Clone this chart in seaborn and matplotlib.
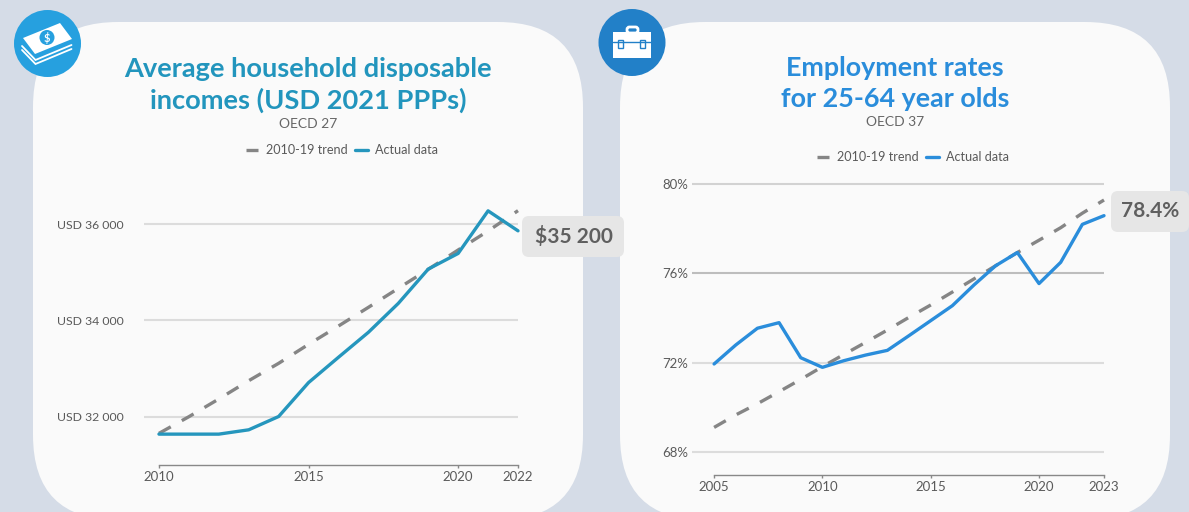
import matplotlib
matplotlib.use("Agg")
import matplotlib.pyplot as plt
from matplotlib.patches import Circle, FancyBboxPatch, Polygon, Rectangle
import pandas as pd
import seaborn as sns

W, H = 1189, 512

TREND = "2010-19 trend"
ACTUAL = "Actual data"

income_years = [2010, 2011, 2012, 2013, 2014, 2015, 2016, 2017, 2018, 2019, 2020, 2021, 2022]
income_actual = [31633, 31633, 31633, 31723, 32000, 32707, 33234, 33754, 34357, 35071, 35397, 36284, 35868]
income_trend = [31649, 31996, 32365, 32746, 33108, 33503, 33885, 34274, 34670, 35066, 35469, 35865, 36288]
income_yticks = [32000, 34000, 36000]
income_ylabels = ["USD 32 000", "USD 34 000", "USD 36 000"]
income_xticks = [2010, 2015, 2020, 2022]

emp_years = [2005, 2006, 2007, 2008, 2009, 2010, 2011, 2012, 2013, 2014, 2015, 2016,
             2017, 2018, 2019, 2020, 2021, 2022, 2023]
emp_actual = [71.94, 72.79, 73.54, 73.79, 72.22, 71.79, 72.09, 72.34, 72.55, 73.21, 73.88,
              74.55, 75.48, 76.34, 76.93, 75.54, 76.49, 78.19, 78.58]
emp_trend = [69.10, 69.66, 70.16, 70.70, 71.25, 71.82, 72.37, 72.91, 73.46, 74.03, 74.58,
             75.16, 75.75, 76.34, 76.93, 77.48, 78.04, 78.69, 79.28]
emp_yticks = [68, 72, 76, 80]
emp_ylabels = ["68%", "72%", "76%", "80%"]
emp_xticks = [2005, 2010, 2015, 2020, 2023]

sns.set_theme(style="white")
plt.rcParams["font.family"] = ["Lato", "DejaVu Sans"]

BG = "#d5dce7"
CARD = "#fafafa"
GREY = "#666666"
TICK = "#5a5a5a"
GRID = "#dcdcdc"
DASH = "#858585"


def px_axes(fig, x0, x1, y_top, y_bottom):
    return fig.add_axes([x0 / W, 1 - y_bottom / H, (x1 - x0) / W, (y_bottom - y_top) / H])


def long_table(years, actual, trend):
    return pd.concat([
        pd.DataFrame({"year": years, "value": trend, "series": TREND}),
        pd.DataFrame({"year": years, "value": actual, "series": ACTUAL}),
    ])


def draw_chart(ax, df, color, xlim, ylim, xticks, yticks, ylabels, legend_xy, tick_pad, ysize):
    sns.lineplot(
        data=df, x="year", y="value", hue="series", style="series",
        hue_order=[TREND, ACTUAL], style_order=[TREND, ACTUAL],
        palette={TREND: DASH, ACTUAL: color},
        dashes={TREND: (4.05, 3.8), ACTUAL: ""},
        linewidth=2.4, ax=ax, errorbar=None,
    )
    for line in ax.get_lines():
        line.set_clip_on(False)
    ax.set_xlim(*xlim)
    ax.set_ylim(*ylim)
    ax.set_facecolor("none")
    ax.set_xlabel("")
    ax.set_ylabel("")
    ax.set_xticks(xticks)
    ax.set_yticks(yticks)
    ax.set_yticklabels(ylabels)
    ax.grid(axis="y", color=GRID, linewidth=1.5)
    ax.set_axisbelow(True)
    ax.tick_params(axis="x", length=2.5, width=1, color="#888888", labelsize=9.5,
                   labelcolor=TICK, pad=2, bottom=True)
    ax.tick_params(axis="y", length=0, labelsize=ysize, labelcolor=TICK, pad=tick_pad)
    for side in ["top", "left", "right"]:
        ax.spines[side].set_visible(False)
    ax.spines["bottom"].set_color("#888888")
    ax.spines["bottom"].set_linewidth(1)
    ax.spines["bottom"].set_bounds(xticks[0], xticks[-1])
    handles, labels = ax.get_legend_handles_labels()
    ax.legend(
        handles, labels, ncol=2, frameon=False, fontsize=9.1,
        labelcolor=TICK, handlelength=1.0, handletextpad=0.6, columnspacing=0.6,
        loc="center", bbox_to_anchor=(legend_xy[0] / W, 1 - legend_xy[1] / H),
        bbox_transform=ax.figure.transFigure,
    )


fig = plt.figure(figsize=(W / 100, H / 100), dpi=100, facecolor=BG)

# background layer in pixel coordinates: cards, icons, titles
bg = fig.add_axes([0, 0, 1, 1])
bg.set_xlim(0, W)
bg.set_ylim(H, 0)
bg.axis("off")

for x0 in [33, 620]:
    bg.add_patch(FancyBboxPatch((x0 + 85, 22 + 85), 550 - 170, 328,
                                boxstyle="round,pad=85,rounding_size=85",
                                fc=CARD, ec="none"))

# money icon
MONEY = "#26a0df"
bg.add_patch(Circle((47.5, 43.5), 33.5, fc=MONEY, ec="none"))
for dy in [5, 9]:
    bg.plot([22, 35.5, 71.5], [41 + dy, 55 + dy, 40 + dy], color="white", lw=1.3,
            solid_joinstyle="miter")
bg.add_patch(Polygon([(23, 38), (60, 23), (72, 39), (35, 54)], fc="white", ec="none"))
bg.add_patch(Circle((47, 37.5), 7.5, fc=MONEY, ec="none"))
bg.text(47, 37.5, "$", color="white", fontsize=8, fontweight="bold", ha="center", va="center")

# briefcase icon
CASE = "#2280c8"
bg.add_patch(Circle((632, 42.5), 33.5, fc=CASE, ec="none"))
bg.add_patch(FancyBboxPatch((627, 27), 11, 6, boxstyle="round,pad=0,rounding_size=2.5",
                            fc="none", ec="white", lw=2))
bg.add_patch(Rectangle((612.5, 32), 38, 25.5, fc="white", ec="none"))
bg.plot([612.5, 650.5], [41.5, 41.5], color=CASE, lw=1)
for cx in [618, 640]:
    bg.add_patch(Rectangle((cx, 39.5), 5, 8, fc="white", ec=CASE, lw=1))

# titles
bg.text(308, 69, "Average household disposable", color="#2295bd", fontsize=19.6,
        fontweight="bold", ha="center", va="center")
bg.text(308, 100, "incomes (USD 2021 PPPs)", color="#2295bd", fontsize=19.6,
        fontweight="bold", ha="center", va="center")
bg.text(308, 124, "OECD 27", color=GREY, fontsize=10, ha="center", va="center")

bg.text(895, 68, "Employment rates", color="#2a8ddb", fontsize=19.4,
        fontweight="bold", ha="center", va="center")
bg.text(895, 99, "for 25-64 year olds", color="#2a8ddb", fontsize=19.4,
        fontweight="bold", ha="center", va="center")
bg.text(895, 122.5, "OECD 37", color=GREY, fontsize=10, ha="center", va="center")

# end labels
for (x0, y0, w, h, txt) in [(522, 216, 102, 41, "$35 200"), (1111, 191, 78, 41, "78.4%")]:
    bg.add_patch(FancyBboxPatch((x0 + 7, y0 + 7), w - 14, h - 14,
                                boxstyle="round,pad=7,rounding_size=7",
                                fc="#e6e6e6", ec="none"))
    bg.text(x0 + w / 2 + 0.5, y0 + h / 2 - 0.5, txt, color="#5f5f5f", fontsize=15,
            fontweight="bold", ha="center", va="center")

# left chart
ax1 = px_axes(fig, 144, 518, 200, 465)
draw_chart(
    ax1, long_table(income_years, income_actual, income_trend),
    "#2596bd", (2009.5, 2022), (30990, 36510),
    income_xticks, income_yticks, income_ylabels, (342, 150), 14.5, 8.8,
)

# right chart
ax2 = px_axes(fig, 692, 1104, 175, 475)
draw_chart(
    ax2, long_table(emp_years, emp_actual, emp_trend),
    "#2a8ddb", (2003.98, 2023), (66.97, 80.4),
    emp_xticks, emp_yticks, emp_ylabels, (913, 157), 3, 9.5,
)
ax2.get_ygridlines()[2].set_color("#bdbdbd")
ax2.get_ygridlines()[3].set_color("#d2d2d2")

fig.savefig("out.png", dpi=100, facecolor=BG)
plt.close(fig)
